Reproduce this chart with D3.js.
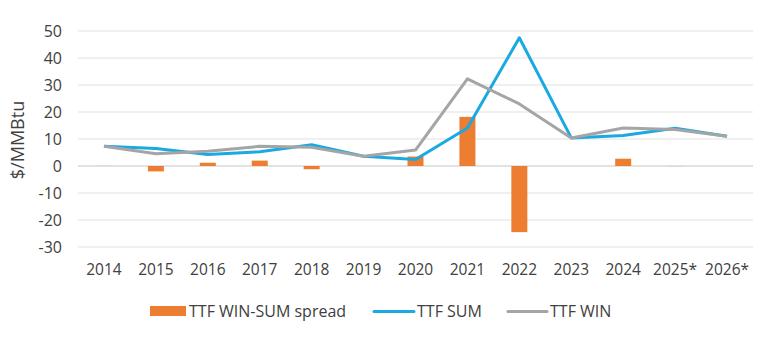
<!DOCTYPE html>
<html>
<head>
<meta charset="utf-8">
<script src="https://cdn.jsdelivr.net/npm/d3@7"></script>
<style>
  body { margin: 0; background: #fff; }
  text { font-family: "Open Sans", "Noto Sans", sans-serif; fill: #404040; }
</style>
</head>
<body>
<div id="chart"></div>
<script>
const years = ['2014', '2015', '2016', '2017', '2018', '2019', '2020', '2021', '2022', '2023', '2024', '2025*', '2026*']
const spread = [0.2, -2.0, 1.2, 2.0, -1.2, 0, 3.5, 18.2, -24.5, 0, 2.7, -0.3, 0]
const ttfSum = [7.3, 6.5, 4.3, 5.3, 7.9, 3.6, 2.4, 14.1, 47.5, 10.4, 11.3, 14.0, 11.0]
const ttfWin = [7.3, 4.5, 5.5, 7.3, 6.9, 3.6, 5.9, 32.3, 23.0, 10.4, 14.1, 13.5, 11.0]
const yTicks = [-30, -20, -10, 0, 10, 20, 30, 40, 50]

const width = 769
const height = 341
const plotLeft = 78, plotRight = 753, plotTop = 31, plotBottom = 247

const svg = d3.select('#chart')
  .append('svg')
  .attr('width', width)
  .attr('height', height)

const x = d3.scaleBand()
  .domain(years)
  .range([plotLeft, plotRight])

const y = d3.scaleLinear()
  .domain([-30, 50])
  .range([plotBottom, plotTop])

// gridlines
svg.append('g')
  .selectAll('line')
  .data(yTicks)
  .enter()
  .append('line')
  .attr('x1', plotLeft)
  .attr('x2', plotRight)
  .attr('y1', d => y(d))
  .attr('y2', d => y(d))
  .attr('stroke', d => d === 0 ? '#d9d9d9' : '#ebebeb')
  .attr('stroke-width', d => d === 0 ? 1.5 : 1.3)

// y tick labels
svg.append('g')
  .selectAll('text')
  .data(yTicks)
  .enter()
  .append('text')
  .text(d => d)
  .attr('x', 62)
  .attr('y', d => y(d))
  .attr('dy', '0.35em')
  .attr('text-anchor', 'end')
  .style('font-size', '16px')

// x axis labels
const xAxis = d3.axisBottom(x).tickSize(0).tickPadding(0)
svg.append('g')
  .attr('transform', `translate(0, 264)`)
  .call(xAxis)
  .call(g => g.select('.domain').remove())
  .selectAll('text')
  .attr('dy', '0.71em')
  .style('font-size', '15.5px')
  .style('font-family', '"Open Sans", sans-serif')
  .attr('fill', '#404040')

// y axis title
svg.append('text')
  .text('$/MMBtu')
  .attr('transform', 'translate(24, 140) rotate(-90)')
  .attr('text-anchor', 'middle')
  .style('font-size', '18px')

// spread bars
const barW = 16
svg.append('g')
  .selectAll('rect')
  .data(spread)
  .enter()
  .append('rect')
  .attr('x', (d, i) => x(years[i]) + x.bandwidth() / 2 - barW / 2)
  .attr('y', d => y(Math.max(0, d)))
  .attr('width', barW)
  .attr('height', d => Math.abs(y(d) - y(0)))
  .attr('fill', '#ed7d31')
  .attr('opacity', d => Math.abs(d) < 0.5 ? 0.15 : 1)

const line = d3.line()
  .x((d, i) => x(years[i]) + x.bandwidth() / 2)
  .y(d => y(d))

svg.append('path')
  .datum(ttfSum)
  .attr('d', line)
  .attr('fill', 'none')
  .attr('stroke', '#1aa9e0')
  .attr('stroke-width', 3)
  .attr('stroke-linejoin', 'round')

svg.append('path')
  .datum(ttfWin)
  .attr('d', line)
  .attr('fill', 'none')
  .attr('stroke', '#a5a5a5')
  .attr('stroke-width', 3)
  .attr('stroke-linejoin', 'round')

// legend
const legend = svg.append('g')
legend.append('rect')
  .attr('x', 150).attr('y', 306)
  .attr('width', 36).attr('height', 10)
  .attr('fill', '#ed7d31')
legend.append('text')
  .text('TTF WIN-SUM spread')
  .attr('x', 189).attr('y', 311).attr('dy', '0.35em')
  .style('font-size', '16px')

legend.append('line')
  .attr('x1', 374).attr('x2', 414)
  .attr('y1', 311.5).attr('y2', 311.5)
  .attr('stroke', '#1aa9e0').attr('stroke-width', 3)
  .attr('stroke-linecap', 'round')
legend.append('text')
  .text('TTF SUM')
  .attr('x', 417).attr('y', 311).attr('dy', '0.35em')
  .style('font-size', '16px')

legend.append('line')
  .attr('x1', 508).attr('x2', 547)
  .attr('y1', 311.5).attr('y2', 311.5)
  .attr('stroke', '#a5a5a5').attr('stroke-width', 3)
  .attr('stroke-linecap', 'round')
legend.append('text')
  .text('TTF WIN')
  .attr('x', 550).attr('y', 311).attr('dy', '0.35em')
  .style('font-size', '16px')
</script>
</body>
</html>
